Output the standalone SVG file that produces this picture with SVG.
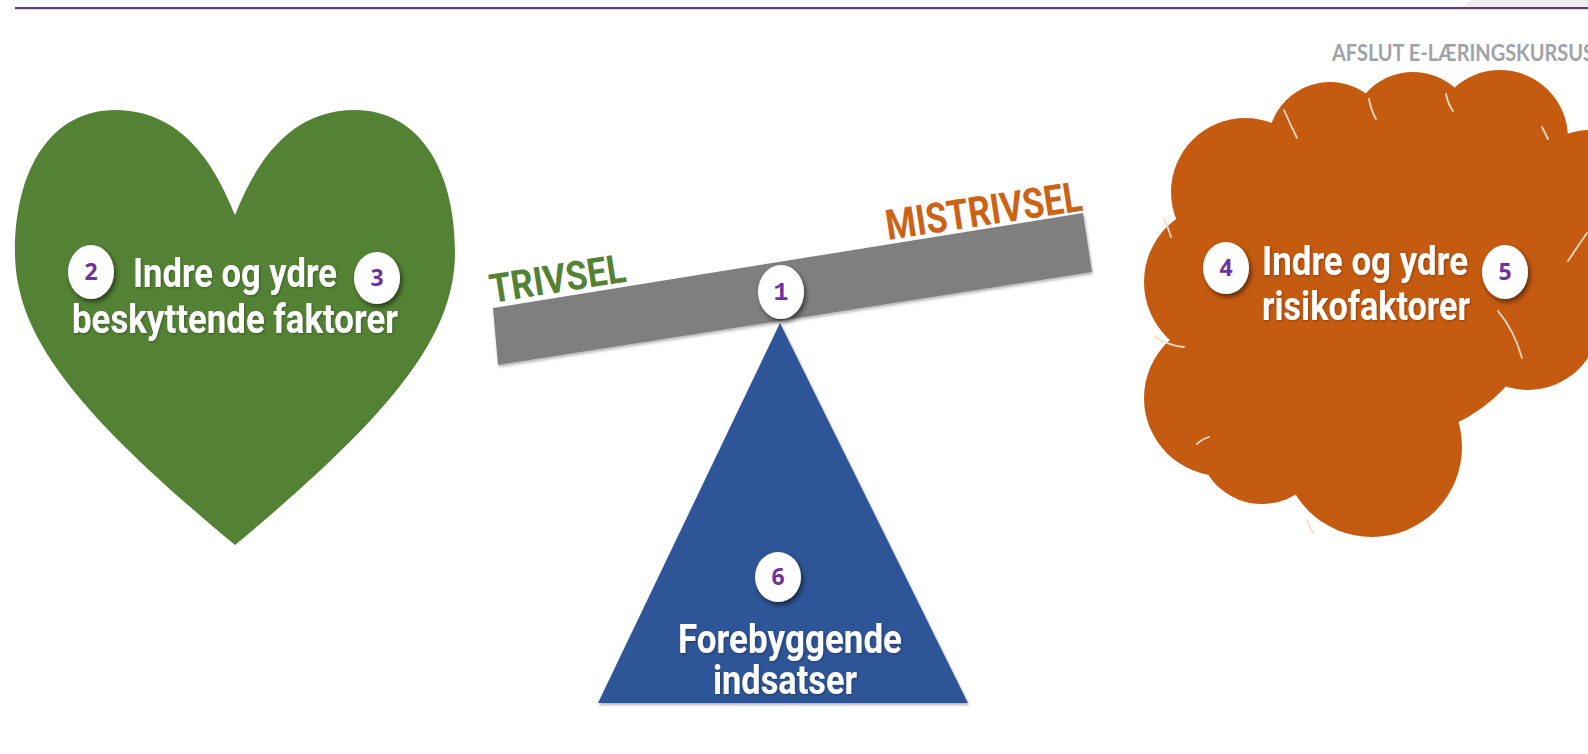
<svg xmlns="http://www.w3.org/2000/svg" width="1588" height="754" viewBox="0 0 1588 754">
  <defs>
    <filter id="badgeShadow" x="-50%" y="-50%" width="200%" height="200%">
      <feDropShadow dx="2" dy="3" stdDeviation="2.5" flood-color="#000" flood-opacity="0.55"/>
    </filter>
    <filter id="softShadow" x="-10%" y="-10%" width="120%" height="120%">
      <feDropShadow dx="1" dy="2" stdDeviation="1.5" flood-color="#000" flood-opacity="0.3"/>
    </filter>
    <filter id="textShadow" x="-10%" y="-20%" width="120%" height="140%">
      <feDropShadow dx="1" dy="1" stdDeviation="1" flood-color="#000" flood-opacity="0.3"/>
    </filter>
    <style>
      .label { font-family: Roboto, "Liberation Sans", sans-serif; font-weight: 700; fill: #ffffff; font-size: 40px; }
      .badge { fill: #ffffff; }
      .num { font-family: "Open Sans", "Liberation Sans", sans-serif; font-weight: 700; fill: #7030a0; font-size: 23px; text-anchor: middle; }
      .num-mono { font-family: "Liberation Mono", "DejaVu Sans Mono", monospace; font-weight: 700; fill: #7030a0; font-size: 25px; text-anchor: middle; }
      .tilt { font-family: Roboto, "Liberation Sans", sans-serif; font-weight: 700; }
      .crease { fill: none; stroke: #f6dcc6; stroke-width: 1.8; stroke-linecap: round; }
      .cloud-fill { fill: #c55a11; }
    </style>
  </defs>

  <rect width="1588" height="754" fill="#ffffff"/>

  <!-- header bar -->
  <g id="header">
    <polygon points="1462,8 1471,0 1588,0 1588,8" fill="#ededed"/>
    <rect x="15" y="7" width="1573" height="2" fill="#5b3d78"/>
    <rect x="15" y="9" width="1573" height="1" fill="#e3d3ee"/>
    <text x="1332" y="61" font-family="Lato, 'Open Sans', 'Liberation Sans', sans-serif" font-weight="700" font-size="23" fill="#9ea3a8" textLength="262" lengthAdjust="spacingAndGlyphs">AFSLUT E-LÆRINGSKURSUS</text>
  </g>

  <!-- protective factors: heart -->
  <g id="heart">
    <path d="M235 215 C215 165 182 110 115 110 C52 110 15 168 15 252 C15 335 75 412 235 545 C395 412 455 335 455 252 C455 168 418 110 355 110 C288 110 255 165 235 215 Z" fill="#548235"/>
    <g filter="url(#textShadow)">
      <text class="label" x="235" y="287" text-anchor="middle" textLength="204" lengthAdjust="spacingAndGlyphs">Indre og ydre</text>
      <text class="label" x="235" y="333" text-anchor="middle" textLength="326" lengthAdjust="spacingAndGlyphs">beskyttende faktorer</text>
    </g>
    <g id="badge-2">
      <ellipse class="badge" cx="91" cy="272" rx="23" ry="27" filter="url(#badgeShadow)"/>
      <text class="num" x="91" y="280">2</text>
    </g>
    <g id="badge-3">
      <ellipse class="badge" cx="377" cy="278" rx="23" ry="26" filter="url(#badgeShadow)"/>
      <text class="num" x="377" y="286">3</text>
    </g>
  </g>

  <!-- risk factors: cloud -->
  <g id="cloud">
    <g class="cloud-fill">
      <circle cx="1222" cy="282" r="78"/>
      <circle cx="1222" cy="398" r="78"/>
      <circle cx="1262" cy="440" r="64"/>
      <circle cx="1372" cy="447" r="90"/>
      <circle cx="1528" cy="318" r="72"/>
      <circle cx="1592" cy="218" r="88"/>
      <circle cx="1500" cy="138" r="68"/>
      <circle cx="1413" cy="135" r="63"/>
      <circle cx="1330" cy="144" r="62"/>
      <circle cx="1245" cy="192" r="74"/>
      <circle cx="1515" cy="230" r="55"/>
      <ellipse cx="1380" cy="300" rx="160" ry="140"/>
    </g>
    <path class="crease" d="M1284 110 Q1290 124 1297 138"/>
    <path class="crease" d="M1369 99 Q1371 110 1376 119"/>
    <path class="crease" d="M1446 94 Q1448 104 1453 111"/>
    <path class="crease" d="M1542 127 Q1545 133 1548 139"/>
    <path class="crease" d="M1164 219 Q1168 227 1171 237"/>
    <path class="crease" d="M1155 337 Q1170 346 1184 347"/>
    <path class="crease" d="M1197 444 Q1202 439 1209 437"/>
    <path class="crease" d="M1307 520 Q1309 527 1313 533"/>
    <path class="crease" d="M1498 311 Q1514 330 1522 358"/>
    <path class="crease" d="M1568 261 Q1578 246 1587 233"/>
    <g filter="url(#textShadow)">
      <text class="label" x="1365" y="275" text-anchor="middle" textLength="206" lengthAdjust="spacingAndGlyphs">Indre og ydre</text>
      <text class="label" x="1366" y="320" text-anchor="middle" textLength="208" lengthAdjust="spacingAndGlyphs">risikofaktorer</text>
    </g>
    <g id="badge-4">
      <ellipse class="badge" cx="1226" cy="268" rx="23" ry="26" filter="url(#badgeShadow)"/>
      <text class="num" x="1226" y="276">4</text>
    </g>
    <g id="badge-5">
      <ellipse class="badge" cx="1505" cy="272" rx="23" ry="27" filter="url(#badgeShadow)"/>
      <text class="num" x="1505" y="280">5</text>
    </g>
  </g>

  <!-- preventive efforts: fulcrum -->
  <g id="fulcrum">
    <polygon points="780,323 598,703 968,703" fill="#2f5597" filter="url(#softShadow)"/>
    <g filter="url(#textShadow)">
      <text class="label" x="790" y="653" text-anchor="middle" textLength="224" lengthAdjust="spacingAndGlyphs">Forebyggende</text>
      <text class="label" x="785" y="694" text-anchor="middle" textLength="144" lengthAdjust="spacingAndGlyphs">indsatser</text>
    </g>
    <g id="badge-6">
      <ellipse class="badge" cx="778" cy="577" rx="23" ry="25" filter="url(#badgeShadow)"/>
      <text class="num" x="778" y="585">6</text>
    </g>
  </g>

  <!-- balance beam -->
  <g id="beam">
    <polygon points="493,308 1083,213 1092,272 498,365" fill="#7f7f7f" filter="url(#softShadow)"/>
    <text class="tilt" transform="translate(492,303) rotate(-9)" font-size="40" fill="#548235" textLength="137" lengthAdjust="spacingAndGlyphs">TRIVSEL</text>
    <text class="tilt" transform="translate(888,240) rotate(-8.6)" font-size="42" fill="#cc6216" textLength="198" lengthAdjust="spacingAndGlyphs">MISTRIVSEL</text>
    <g id="badge-1">
      <ellipse class="badge" cx="781" cy="292" rx="23" ry="27" filter="url(#badgeShadow)"/>
      <text class="num-mono" x="781" y="300">1</text>
    </g>
  </g>
</svg>
